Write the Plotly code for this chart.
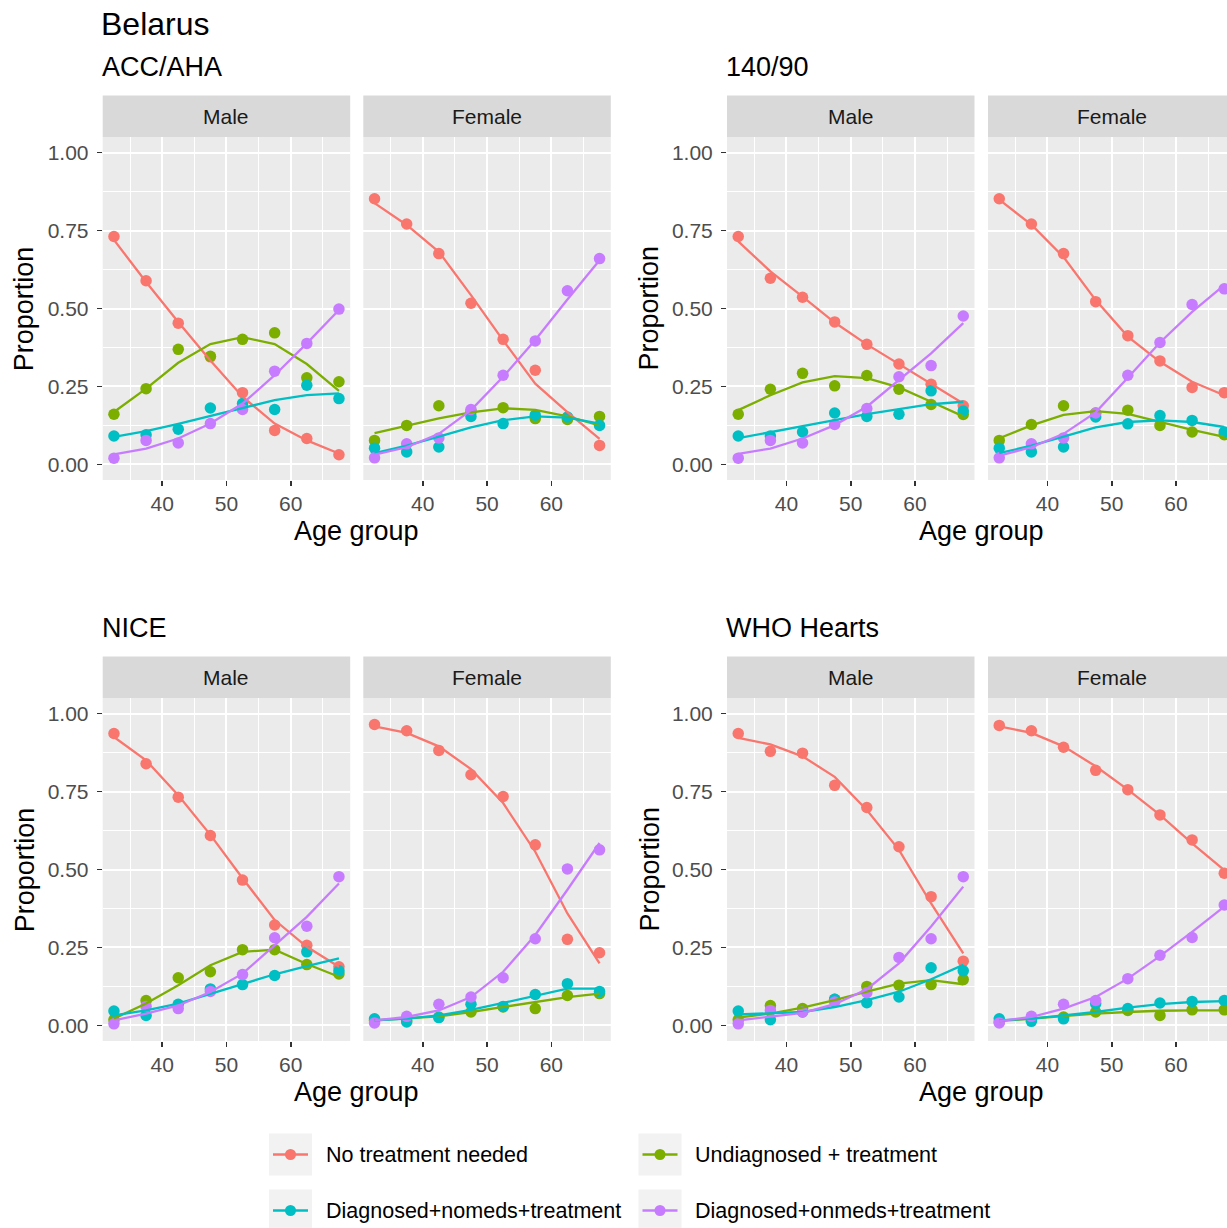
import plotly.graph_objects as go

# ---------------- data ----------------
AGES = [32.5, 37.5, 42.5, 47.5, 52.5, 57.5, 62.5, 67.5]
SERIES = ["No treatment needed", "Undiagnosed + treatment",
          "Diagnosed+nomeds+treatment", "Diagnosed+onmeds+treatment"]
COLORS = ["#F8766D", "#7CAE00", "#00BFC4", "#C77CFF"]
X_TICKS = [40, 50, 60]
Y_TICKS = [0, 0.25, 0.5, 0.75, 1.0]
Y_TICKTEXT = ["0.00", "0.25", "0.50", "0.75", "1.00"]
COUNTRY = "Belarus"
CRITERIA = ["ACC/AHA", "140/90", "NICE", "WHO Hearts"]
SEXES = ["Male", "Female"]

# observed proportions (points) and fitted curves (lines); rows follow SERIES
acc_male_obs = [
    [0.731, 0.589, 0.453, 0.345, 0.230, 0.109, 0.083, 0.031],
    [0.161, 0.243, 0.369, 0.347, 0.401, 0.422, 0.278, 0.265],
    [0.091, 0.095, 0.113, 0.181, 0.195, 0.176, 0.254, 0.211],
    [0.020, 0.077, 0.069, 0.131, 0.176, 0.299, 0.388, 0.498]]
acc_male_fit = [
    [0.720, 0.585, 0.457, 0.333, 0.217, 0.131, 0.077, 0.035],
    [0.168, 0.243, 0.326, 0.386, 0.408, 0.386, 0.322, 0.236],
    [0.088, 0.107, 0.130, 0.155, 0.181, 0.206, 0.222, 0.228],
    [0.032, 0.051, 0.083, 0.131, 0.195, 0.286, 0.388, 0.495]]
acc_female_obs = [
    [0.852, 0.771, 0.676, 0.517, 0.401, 0.302, 0.150, 0.061],
    [0.077, 0.125, 0.188, 0.170, 0.182, 0.147, 0.144, 0.154],
    [0.052, 0.040, 0.056, 0.154, 0.131, 0.158, 0.152, 0.125],
    [0.021, 0.066, 0.085, 0.176, 0.286, 0.396, 0.557, 0.660]]
acc_female_fit = [
    [0.838, 0.768, 0.682, 0.543, 0.398, 0.259, 0.168, 0.082],
    [0.100, 0.125, 0.148, 0.167, 0.180, 0.175, 0.154, 0.125],
    [0.036, 0.060, 0.089, 0.119, 0.142, 0.154, 0.150, 0.131],
    [0.031, 0.055, 0.098, 0.174, 0.281, 0.399, 0.529, 0.655]]

p140_male_obs = [
    [0.731, 0.597, 0.536, 0.457, 0.385, 0.322, 0.257, 0.188],
    [0.161, 0.241, 0.292, 0.252, 0.285, 0.241, 0.192, 0.160],
    [0.091, 0.091, 0.104, 0.165, 0.154, 0.161, 0.236, 0.171],
    [0.020, 0.077, 0.069, 0.128, 0.179, 0.281, 0.317, 0.476]]
p140_male_fit = [
    [0.715, 0.619, 0.538, 0.455, 0.385, 0.322, 0.260, 0.195],
    [0.174, 0.222, 0.263, 0.283, 0.277, 0.247, 0.201, 0.154],
    [0.084, 0.104, 0.122, 0.142, 0.161, 0.178, 0.193, 0.201],
    [0.034, 0.051, 0.083, 0.126, 0.185, 0.270, 0.356, 0.453]]
p140_female_obs = [
    [0.852, 0.771, 0.676, 0.522, 0.413, 0.332, 0.247, 0.230],
    [0.077, 0.128, 0.188, 0.165, 0.174, 0.125, 0.104, 0.095],
    [0.052, 0.040, 0.056, 0.152, 0.130, 0.157, 0.141, 0.104],
    [0.021, 0.066, 0.085, 0.165, 0.286, 0.391, 0.513, 0.563]]
p140_female_fit = [
    [0.849, 0.769, 0.665, 0.527, 0.410, 0.329, 0.265, 0.222],
    [0.084, 0.125, 0.159, 0.171, 0.162, 0.136, 0.111, 0.088],
    [0.036, 0.060, 0.089, 0.119, 0.136, 0.141, 0.136, 0.120],
    [0.028, 0.055, 0.098, 0.167, 0.278, 0.391, 0.489, 0.575]]

nice_male_obs = [
    [0.936, 0.839, 0.732, 0.609, 0.466, 0.322, 0.257, 0.188],
    [0.018, 0.080, 0.153, 0.172, 0.243, 0.243, 0.195, 0.165],
    [0.046, 0.032, 0.068, 0.117, 0.131, 0.160, 0.236, 0.175],
    [0.005, 0.061, 0.054, 0.109, 0.163, 0.281, 0.318, 0.477]]
nice_male_fit = [
    [0.925, 0.850, 0.738, 0.611, 0.472, 0.338, 0.252, 0.188],
    [0.022, 0.070, 0.129, 0.193, 0.236, 0.243, 0.197, 0.156],
    [0.032, 0.048, 0.070, 0.102, 0.134, 0.164, 0.190, 0.215],
    [0.016, 0.038, 0.064, 0.107, 0.166, 0.257, 0.348, 0.455]]
nice_female_obs = [
    [0.965, 0.945, 0.882, 0.804, 0.734, 0.579, 0.276, 0.233],
    [0.016, 0.016, 0.027, 0.043, 0.059, 0.054, 0.096, 0.102],
    [0.021, 0.011, 0.025, 0.068, 0.061, 0.099, 0.134, 0.109],
    [0.008, 0.029, 0.068, 0.091, 0.153, 0.278, 0.502, 0.563]]
nice_female_fit = [
    [0.959, 0.938, 0.895, 0.822, 0.713, 0.557, 0.359, 0.199],
    [0.016, 0.022, 0.029, 0.043, 0.059, 0.075, 0.091, 0.102],
    [0.016, 0.022, 0.032, 0.050, 0.072, 0.096, 0.118, 0.118],
    [0.016, 0.027, 0.048, 0.091, 0.172, 0.290, 0.435, 0.585]]

who_male_obs = [
    [0.936, 0.879, 0.873, 0.770, 0.699, 0.573, 0.413, 0.206],
    [0.018, 0.064, 0.054, 0.084, 0.125, 0.129, 0.131, 0.147],
    [0.046, 0.018, 0.043, 0.084, 0.073, 0.091, 0.185, 0.175],
    [0.005, 0.048, 0.043, 0.075, 0.105, 0.218, 0.278, 0.477]]
who_male_fit = [
    [0.922, 0.901, 0.863, 0.797, 0.691, 0.563, 0.391, 0.231],
    [0.025, 0.038, 0.057, 0.081, 0.108, 0.134, 0.145, 0.132],
    [0.035, 0.038, 0.043, 0.059, 0.081, 0.108, 0.148, 0.194],
    [0.016, 0.027, 0.040, 0.068, 0.116, 0.199, 0.317, 0.445]]
who_female_obs = [
    [0.962, 0.945, 0.892, 0.818, 0.756, 0.675, 0.595, 0.488],
    [0.011, 0.018, 0.027, 0.043, 0.048, 0.032, 0.050, 0.050],
    [0.021, 0.013, 0.021, 0.070, 0.054, 0.072, 0.077, 0.080],
    [0.008, 0.029, 0.068, 0.080, 0.150, 0.225, 0.282, 0.386]]
who_female_fit = [
    [0.959, 0.938, 0.895, 0.831, 0.756, 0.675, 0.584, 0.498],
    [0.014, 0.022, 0.029, 0.038, 0.043, 0.047, 0.048, 0.048],
    [0.016, 0.022, 0.032, 0.043, 0.057, 0.068, 0.075, 0.078],
    [0.014, 0.027, 0.054, 0.091, 0.150, 0.222, 0.300, 0.381]]

PANEL_DATA = [
    ((acc_male_obs, acc_male_fit), (acc_female_obs, acc_female_fit)),
    ((p140_male_obs, p140_male_fit), (p140_female_obs, p140_female_fit)),
    ((nice_male_obs, nice_male_fit), (nice_female_obs, nice_female_fit)),
    ((who_male_obs, who_male_fit), (who_female_obs, who_female_fit)),
]

# ---------------- layout geometry (page pixels) ----------------
PAGE_W, PAGE_H = 1227, 1228
OFF = 0  # body margin is removed via post_script
W, H = PAGE_W - OFF, PAGE_H - OFF
FONT = "Liberation Sans, Arial, Helvetica, sans-serif"
COL_X = [(102.7, 350.2, 363.3, 610.8), (727.0, 974.5, 988.0, 1235.5)]
ROW_Y = [(95.5, 137.0, 480.0), (656.5, 698.0, 1041.0)]
XR = [30.75, 69.25]
YR = [-0.05, 1.05]


def px(x):
    return (x - OFF) / W


def py(y):
    return 1 - (y - OFF) / H


fig = go.Figure()
layout = dict(
    width=W, height=H,
    margin=dict(l=0, r=0, t=0, b=0),
    paper_bgcolor="white",
    plot_bgcolor="#EBEBEB",
    showlegend=False,
    hovermode=False,
    font=dict(family=FONT),
)
shapes = []
annotations = []

k = 0
for p, crit in enumerate(CRITERIA):
    r, c = divmod(p, 2)
    st, pt, pb = ROW_Y[r]
    cx = COL_X[c]
    for s in range(2):
        k += 1
        x0, x1 = cx[2 * s], cx[2 * s + 1]
        xr = list(XR)
        x1c = x1
        if x1 > PAGE_W:
            xr[1] = XR[0] + (PAGE_W - x0) / (x1 - x0) * (XR[1] - XR[0])
            x1c = PAGE_W
        sfx = "" if k == 1 else str(k)
        layout["xaxis" + sfx] = dict(
            domain=[px(x0), px(x1c)], anchor="y" + sfx, range=xr,
            tickvals=X_TICKS, ticks="outside", ticklen=5, tickwidth=1.6,
            tickcolor="#333333", showgrid=True, gridcolor="white", gridwidth=2,
            zeroline=False, showline=False,
            tickfont=dict(size=21, color="#4D4D4D", family=FONT),
            minor=dict(tickvals=[35, 45, 55, 65], showgrid=True,
                       gridcolor="white", gridwidth=1, ticks=""),
            fixedrange=True,
        )
        layout["yaxis" + sfx] = dict(
            domain=[py(pb), py(pt)], anchor="x" + sfx, range=YR,
            tickvals=Y_TICKS, ticktext=Y_TICKTEXT,
            ticks="outside" if s == 0 else "", ticklen=5, tickwidth=1.6,
            tickcolor="#333333", showticklabels=(s == 0), ticklabelstandoff=4,
            showgrid=True, gridcolor="white", gridwidth=2,
            zeroline=False, showline=False,
            tickfont=dict(size=21, color="#4D4D4D", family=FONT),
            minor=dict(tickvals=[0.125, 0.375, 0.625, 0.875], showgrid=True,
                       gridcolor="white", gridwidth=1, ticks=""),
            fixedrange=True,
        )
        obs, fit = PANEL_DATA[p][s]
        for i in range(len(SERIES)):
            fig.add_trace(go.Scatter(
                x=AGES, y=obs[i], mode="markers", name=SERIES[i],
                marker=dict(color=COLORS[i], size=11.5),
                xaxis="x" + sfx, yaxis="y" + sfx, showlegend=False))
        for i in range(len(SERIES)):
            fig.add_trace(go.Scatter(
                x=AGES, y=fit[i], mode="lines", name=SERIES[i],
                line=dict(color=COLORS[i], width=2.3),
                xaxis="x" + sfx, yaxis="y" + sfx, showlegend=False))
        # strip
        shapes.append(dict(type="rect", xref="paper", yref="paper",
                           x0=px(x0), x1=px(x1c), y0=py(pt), y1=py(st),
                           fillcolor="#D9D9D9", line=dict(width=0), layer="below"))
        annotations.append(dict(text=SEXES[s], xref="paper", yref="paper",
                                x=px((x0 + x1) / 2), y=py((st + pt) / 2),
                                xanchor="center", yanchor="middle", showarrow=False,
                                font=dict(size=21, color="#1A1A1A", family=FONT)))
    # subtitle
    annotations.append(dict(text=crit, xref="paper", yref="paper",
                            x=px(cx[0] - 3), y=py(st - 28.5), xanchor="left",
                            yanchor="middle", showarrow=False,
                            font=dict(size=27, color="black", family=FONT)))
    # axis titles
    annotations.append(dict(text="Age group", xref="paper", yref="paper",
                            x=px((cx[0] + cx[3]) / 2), y=py(pb + 51),
                            xanchor="center", yanchor="middle", showarrow=False,
                            font=dict(size=27, color="black", family=FONT)))
    annotations.append(dict(text="Proportion", xref="paper", yref="paper",
                            x=px(cx[0] - 78), y=py((pt + pb) / 2), textangle=-90,
                            xanchor="center", yanchor="middle", showarrow=False,
                            font=dict(size=27, color="black", family=FONT)))

# main title
annotations.append(dict(text=COUNTRY, xref="paper", yref="paper",
                        x=px(99), y=py(24), xanchor="left", yanchor="middle",
                        showarrow=False, font=dict(size=32, color="black", family=FONT)))

# legend (2 x 2), drawn manually to mimic ggplot keys
LEG_COL_CX = [290.5, 660.0]
LEG_ROW_CY = [1154.5, 1210.5]
for i, name in enumerate(SERIES):
    rr, cc = divmod(i, 2)
    cxp, cyp = LEG_COL_CX[cc], LEG_ROW_CY[rr]
    shapes.append(dict(type="rect", xref="paper", yref="paper",
                       x0=px(cxp - 21.5), x1=px(cxp + 21.5),
                       y0=py(cyp + 21), y1=py(cyp - 21),
                       fillcolor="#F2F2F2", line=dict(width=0)))
    shapes.append(dict(type="line", xref="paper", yref="paper",
                       x0=px(cxp - 17.5), x1=px(cxp + 17.5), y0=py(cyp), y1=py(cyp),
                       line=dict(color=COLORS[i], width=2.3)))
    shapes.append(dict(type="circle", xref="paper", yref="paper",
                       x0=px(cxp - 5.5), x1=px(cxp + 5.5),
                       y0=py(cyp + 5.5), y1=py(cyp - 5.5),
                       fillcolor=COLORS[i], line=dict(width=0)))
    annotations.append(dict(text=name, xref="paper", yref="paper",
                            x=px(cxp + 33), y=py(cyp), xanchor="left",
                            yanchor="middle", showarrow=False,
                            font=dict(size=21.5, color="black", family=FONT)))

layout["shapes"] = shapes
layout["annotations"] = annotations
fig.update_layout(**layout)
fig.write_html(
    "out.html",
    config={"displayModeBar": False, "staticPlot": True},
    post_script="document.body.style.margin='0';document.body.style.overflow='hidden';",
)
